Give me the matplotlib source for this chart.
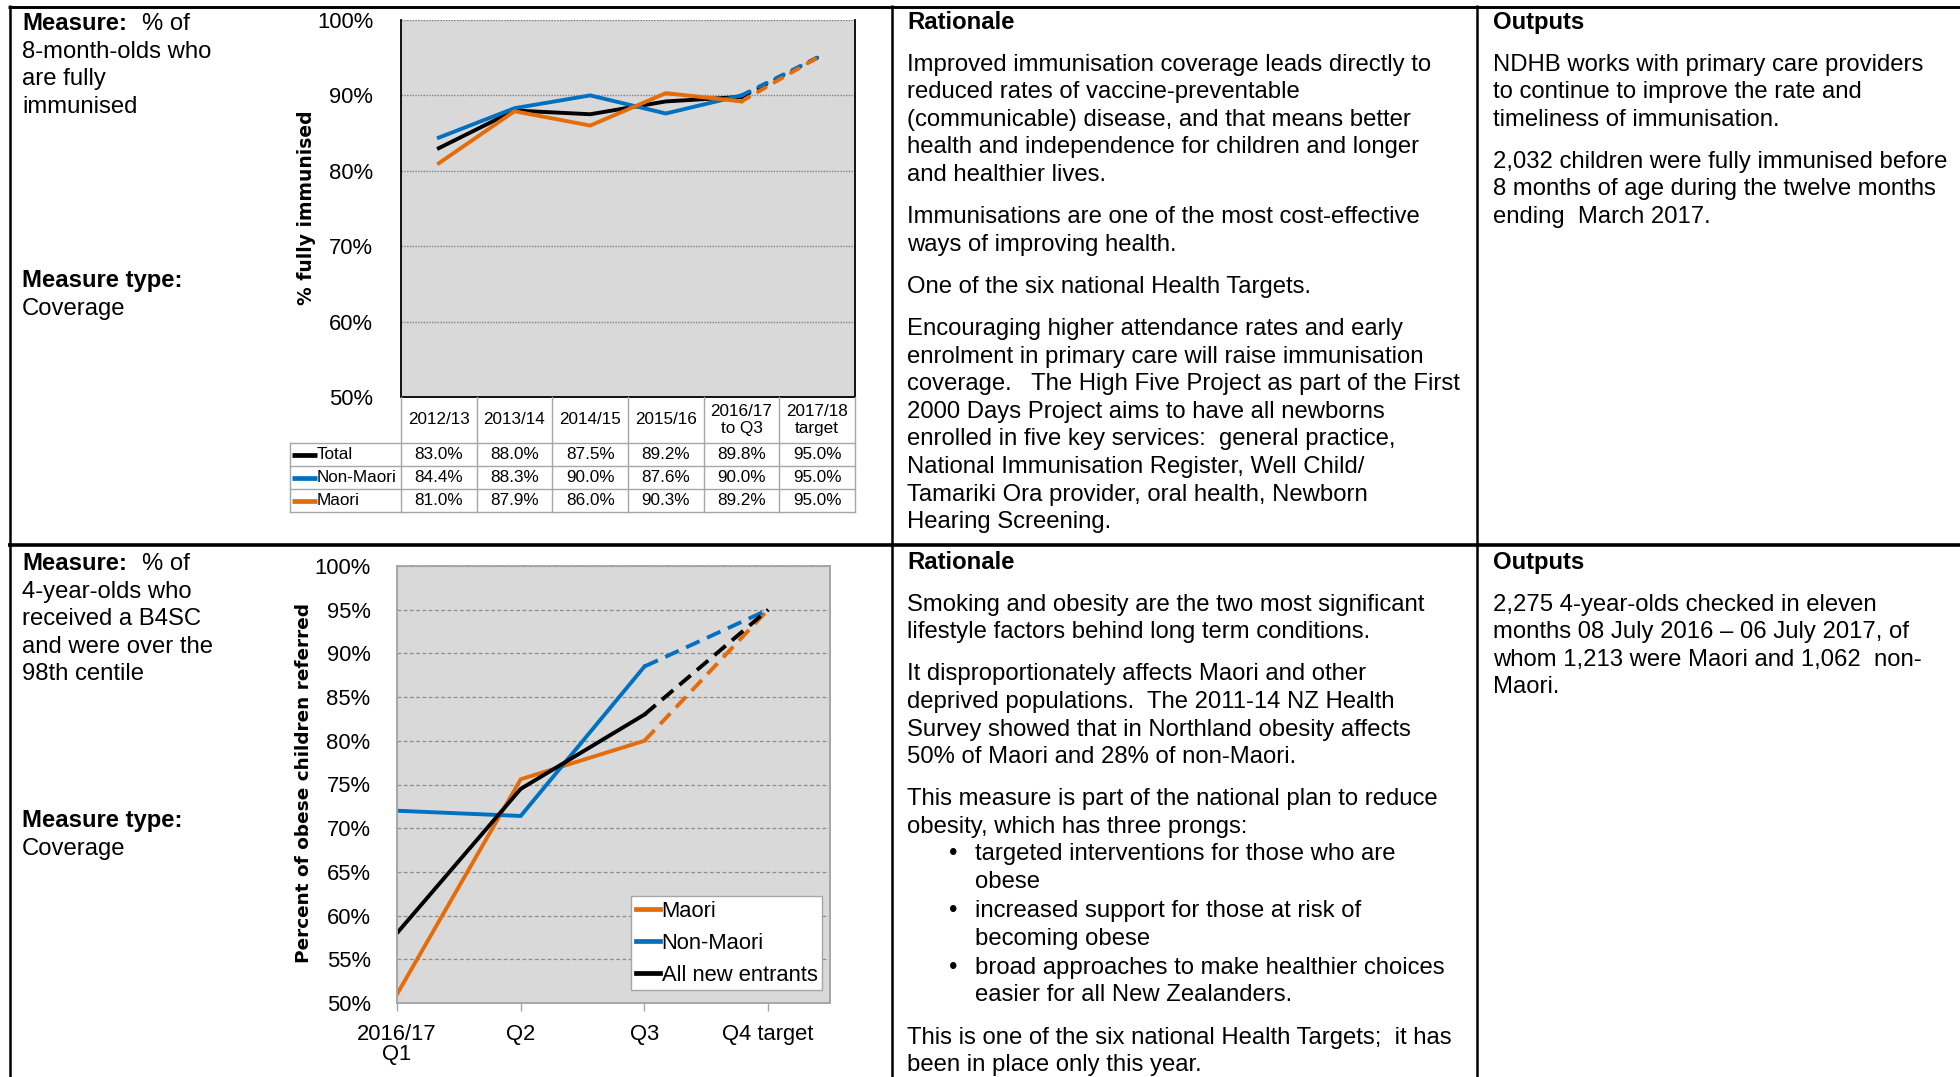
import matplotlib
matplotlib.use("Agg")
import matplotlib.pyplot as plt
from matplotlib.lines import Line2D
from matplotlib.ticker import FixedLocator, FuncFormatter

# ---------------- data ----------------
imm_periods = ["2012/13", "2013/14", "2014/15", "2015/16", "2016/17\nto Q3", "2017/18\ntarget"]
imm_total = [83.0, 88.0, 87.5, 89.2, 89.8, 95.0]
imm_non_maori = [84.4, 88.3, 90.0, 87.6, 90.0, 95.0]
imm_maori = [81.0, 87.9, 86.0, 90.3, 89.2, 95.0]
imm_names = ["Total", "Non-Maori", "Maori"]
imm_yticks = [50, 60, 70, 80, 90, 100]

b4sc_quarters = ["2016/17\nQ1", "Q2", "Q3", "Q4 target"]
b4sc_maori = [51.0, 75.6, 80.0, 95.0]
b4sc_non_maori = [72.0, 71.4, 88.5, 95.0]
b4sc_all = [58.0, 74.5, 83.0, 95.0]
b4sc_names = ["Maori", "Non-Maori", "All new entrants"]
b4sc_yticks = [50, 55, 60, 65, 70, 75, 80, 85, 90, 95, 100]

# ---------------- page text ----------------
measure1 = ["8-month-olds who", "are fully", "immunised"]
measure2 = ["4-year-olds who", "received a B4SC", "and were over the", "98th centile"]

rationale1 = [
    ("para", ["Improved immunisation coverage leads directly to",
              "reduced rates of vaccine-preventable",
              "(communicable) disease, and that means better",
              "health and independence for children and longer",
              "and healthier lives."]),
    ("para", ["Immunisations are one of the most cost-effective",
              "ways of improving health."]),
    ("para", ["One of the six national Health Targets."]),
    ("para", ["Encouraging higher attendance rates and early",
              "enrolment in primary care will raise immunisation",
              "coverage.   The High Five Project as part of the First",
              "2000 Days Project aims to have all newborns",
              "enrolled in five key services:  general practice,",
              "National Immunisation Register, Well Child/",
              "Tamariki Ora provider, oral health, Newborn",
              "Hearing Screening."]),
]
outputs1 = [
    ("para", ["NDHB works with primary care providers",
              "to continue to improve the rate and",
              "timeliness of immunisation."]),
    ("para", ["2,032 children were fully immunised before",
              "8 months of age during the twelve months",
              "ending  March 2017."]),
]
rationale2 = [
    ("para", ["Smoking and obesity are the two most significant",
              "lifestyle factors behind long term conditions."]),
    ("para", ["It disproportionately affects Maori and other",
              "deprived populations.  The 2011-14 NZ Health",
              "Survey showed that in Northland obesity affects",
              "50% of Maori and 28% of non-Maori."]),
    ("para", ["This measure is part of the national plan to reduce",
              "obesity, which has three prongs:"]),
    ("bullet", ["targeted interventions for those who are", "obese"]),
    ("bullet", ["increased support for those at risk of", "becoming obese"]),
    ("bullet", ["broad approaches to make healthier choices",
                "easier for all New Zealanders."]),
    ("para", ["This is one of the six national Health Targets;  it has",
              "been in place only this year."]),
]
outputs2 = [
    ("para", ["2,275 4-year-olds checked in eleven",
              "months 08 July 2016 \u2013 06 July 2017, of",
              "whom 1,213 were Maori and 1,062  non-",
              "Maori."]),
]

# ---------------- style ----------------
W, H = 1960, 1077
BLACK, BLUE, ORANGE = "#000000", "#0070C0", "#E46C0A"
BODY_FONT = "Liberation Sans"
BODY_SIZE = 17.2
LINE = 27.6
PARA_GAP = 14.5
BULLET_GAP = 1.5
LW = 2.8

plt.rcParams["font.family"] = [BODY_FONT, "DejaVu Sans"]

fig = plt.figure(figsize=(W / 100, H / 100), dpi=100)
renderer = fig.canvas.get_renderer()


def rect(left, top, right, bottom):
    return [left / W, 1 - bottom / H, (right - left) / W, (bottom - top) / H]


def put(x, y, s, **kw):
    opts = dict(fontsize=BODY_SIZE, ha="left", va="baseline")
    opts.update(kw)
    return fig.text(x / W, 1 - y / H, s, **opts)


def rule(x0, y0, x1, y1, lw):
    fig.add_artist(Line2D([x0 / W, x1 / W], [1 - y0 / H, 1 - y1 / H],
                          transform=fig.transFigure, color="black", lw=lw,
                          solid_capstyle="butt"))


def bold_lead(x, y, bold, rest, gap=15.5):
    t = put(x, y, bold, weight="bold")
    bb = t.get_window_extent(renderer=renderer)
    put(bb.x1 + gap, y, rest)


def write_column(x, y0, blocks):
    y = y0
    prev = None
    for kind, lines in blocks:
        if prev is not None:
            if kind == "bullet" and prev == "bullet":
                y += BULLET_GAP
            elif not (kind == "bullet" and prev == "para"):
                y += PARA_GAP
        for i, line in enumerate(lines):
            if kind == "bullet":
                if i == 0:
                    put(x + 42, y, "\u2022")
                put(x + 68, y, line)
            else:
                put(x, y, line)
            y += LINE
        prev = kind


# ---------------- table rules ----------------
rule(8, 7, W, 7, 2.1)
rule(8, 545, W, 545, 2.6)
rule(10, 5, 10, H, 1.8)
rule(892, 5, 892, H, 1.8)
rule(1477, 5, 1477, H, 1.8)

# ---------------- text columns ----------------
for off, measure in ((0, measure1), (540, measure2)):
    bold_lead(22, 30 + off, "Measure:", "% of")
    for i, line in enumerate(measure):
        put(22, 30 + off + LINE * (i + 1), line)
    put(22, 287 + off, "Measure type:", weight="bold")
    put(22, 287 + off + LINE, "Coverage")
    put(907, 29 + off, "Rationale", weight="bold")
    put(1493, 29 + off, "Outputs", weight="bold")

write_column(907, 70.6, rationale1)
write_column(1493, 70.6, outputs1)
write_column(907, 610.6, rationale2)
write_column(1493, 610.6, outputs2)


def pct(v, _pos):
    return f"{v:.0f}%"


# ---------------- chart 1: immunisation coverage ----------------
ax1 = fig.add_axes(rect(401, 20, 855, 397))
ax1.set_facecolor("#D9D9D9")
x1 = list(range(len(imm_periods)))
for vals, col in ((imm_total, BLACK), (imm_non_maori, BLUE), (imm_maori, ORANGE)):
    ax1.plot(x1[:-1], vals[:-1], color=col, lw=LW, solid_joinstyle="miter")
    ax1.plot(x1[-2:], vals[-2:], color=col, lw=LW, dashes=(2.3, 2.6),
             dash_capstyle="round")
ax1.set_xlim(-0.5, len(imm_periods) - 0.5)
ax1.set_ylim(imm_yticks[0], imm_yticks[-1])
ax1.yaxis.set_major_locator(FixedLocator(imm_yticks))
ax1.yaxis.set_major_formatter(FuncFormatter(pct))
ax1.tick_params(axis="y", length=0, pad=20, labelsize=15.8)
ax1.tick_params(axis="x", length=0, labelbottom=False)
ax1.grid(axis="y", color="#808080", lw=1.0, linestyle=(0, (1, 1)))
ax1.set_axisbelow(True)
for side in ("left", "right", "bottom"):
    ax1.spines[side].set_color("black")
    ax1.spines[side].set_linewidth(1.3)
ax1.spines["top"].set_visible(False)
fig.text(306 / W, 1 - 208 / H, "% fully immunised", rotation=90,
         ha="center", va="center", fontsize=13.5, weight="bold",
         family="DejaVu Sans")

# data table under chart 1
lab_w = (401 - 290) / ((855 - 401) / len(imm_periods))
tab = fig.add_axes(rect(290, 397, 855, 512))
tab.set_xlim(-0.5 - lab_w, len(imm_periods) - 0.5)
tab.set_ylim(512, 397)
tab.axis("off")
grid_c = "#A6A6A6"
x_left = -0.5 - lab_w
for i in range(len(imm_periods) + 1):
    tab.plot([i - 0.5, i - 0.5], [397, 512], color=grid_c, lw=1.0, clip_on=False)
tab.plot([x_left, x_left], [443, 512], color=grid_c, lw=1.0, clip_on=False)
for yy in (443, 466, 489, 512):
    tab.plot([x_left, len(imm_periods) - 0.5], [yy, yy], color=grid_c, lw=1.0,
             clip_on=False)
for i, lab in enumerate(imm_periods):
    tab.text(i, 420, lab, ha="center", va="center", fontsize=12.3, linespacing=1.1)
key_w = (317 - 292) / ((855 - 401) / len(imm_periods))
key_off = (292 - 290) / ((855 - 401) / len(imm_periods))
for r, (name, vals, col) in enumerate(zip(imm_names,
                                          (imm_total, imm_non_maori, imm_maori),
                                          (BLACK, BLUE, ORANGE))):
    yc = 454.5 + 23 * r
    tab.plot([x_left + key_off, x_left + key_off + key_w], [yc, yc], color=col,
             lw=3.4, solid_capstyle="butt", clip_on=False)
    tab.text(x_left + key_off + key_w, yc, name, ha="left", va="center",
             fontsize=12.3)
    for i, v in enumerate(vals):
        tab.text(i, yc, f"{v:.1f}%", ha="center", va="center", fontsize=12.3)

# ---------------- chart 2: B4SC referrals ----------------
ax2 = fig.add_axes(rect(397, 566, 830, 1003))
ax2.set_facecolor("#D9D9D9")
x2 = list(range(len(b4sc_quarters)))
handles = []
for vals, col, name in ((b4sc_maori, ORANGE, b4sc_names[0]),
                        (b4sc_non_maori, BLUE, b4sc_names[1]),
                        (b4sc_all, BLACK, b4sc_names[2])):
    h, = ax2.plot(x2[:-1], vals[:-1], color=col, lw=LW, label=name,
                  solid_joinstyle="miter")
    ax2.plot(x2[-2:], vals[-2:], color=col, lw=LW, dashes=(3.8, 2.1),
             dash_capstyle="butt")
    handles.append(h)
ax2.set_xlim(0, len(b4sc_quarters) - 0.5)
ax2.set_ylim(b4sc_yticks[0], b4sc_yticks[-1])
ax2.yaxis.set_major_locator(FixedLocator(b4sc_yticks))
ax2.yaxis.set_major_formatter(FuncFormatter(pct))
ax2.set_xticks(x2)
ax2.set_xticklabels(b4sc_quarters, linespacing=0.95)
ax2.tick_params(axis="y", length=0, pad=19, labelsize=15.8)
ax2.tick_params(axis="x", length=6, width=1.0, color="#A6A6A6", pad=9,
                labelsize=15.8, direction="out")
ax2.grid(axis="y", color="#8C8C8C", lw=0.9, linestyle=(0, (3, 2)))
ax2.set_axisbelow(True)
for side in ax2.spines:
    ax2.spines[side].set_color("#A6A6A6")
    ax2.spines[side].set_linewidth(1.4)
leg = ax2.legend(handles=handles, loc="lower right",
                 bbox_to_anchor=(0.981, 0.03), borderaxespad=0,
                 fontsize=15.8, frameon=True, fancybox=False,
                 handlelength=1.13, handletextpad=0.05, borderpad=0.2,
                 labelspacing=0.5)
leg.get_frame().set_edgecolor("#A6A6A6")
leg.get_frame().set_linewidth(1.0)
leg.get_frame().set_facecolor("white")
leg.get_frame().set_alpha(1.0)
for lh in leg.get_lines():
    lh.set_linewidth(3.4)
fig.text(304 / W, 1 - 783 / H, "Percent of obese children referred",
         rotation=90, ha="center", va="center", fontsize=13.3, weight="bold",
         family="DejaVu Sans")

fig.savefig("out.png", dpi=100, facecolor="white")
